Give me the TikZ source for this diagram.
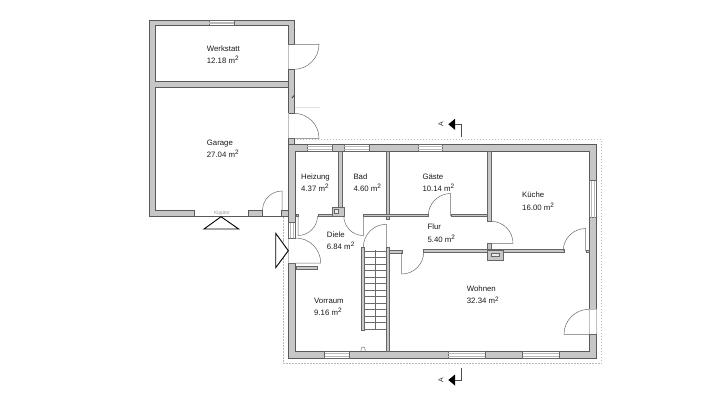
\documentclass[tikz,border=0pt]{standalone}
\usepackage{fontspec}
\setmainfont{Liberation Sans}

\begin{document}
\begin{tikzpicture}[x=1pt,y=-1pt,
    wall/.style={fill=black!22,draw=black!65,line width=.55pt,line join=miter},
    thinwall/.style={fill=black!22,draw=black!60,line width=.4pt,line join=miter},
    glass/.style={fill=white,draw=black!60,line width=.45pt},
    pane/.style={draw=black!28,line width=.45pt},
    sill/.style={draw=black!25,line width=.5pt},
    swing/.style={draw=black!58,line width=.5pt},
    tread/.style={draw=black!58,line width=.4pt},
    outline/.style={draw=black!28,line width=.5pt,dash pattern=on 1.5pt off 1.5pt},
    cut/.style={draw=black,line width=.9pt,fill=white,line join=miter},
    sect/.style={draw=black!70,line width=.5pt},
    room/.style={anchor=west,align=left,inner sep=0pt,text=black!90,
                 font=\fontsize{7.8}{12.3}\selectfont}]
  \useasboundingbox (0,0) rectangle (711,400);

  % dashed outline of the upper floor
  \draw[outline] (283.3,240) -- (283.3,363.3) -- (601.7,363.3) -- (601.7,139.3) -- (296,139.3);
  \draw[outline] (283.3,217) -- (283.3,240);
  \draw[black!12,line width=.5pt] (294,107) -- (320,107);

  % garage block
  \draw[wall] (149.5,20) -- (294,20) -- (294,44.3) -- (288,44.3) -- (288,25.7) -- (155.5,25.7)
    -- (155.5,81.7) -- (288,81.7) -- (288,87.3) -- (155.5,87.3) -- (155.5,210) -- (194,210)
    -- (194,216.7) -- (149.5,216.7) -- cycle;
  \draw[black!65,line width=.55pt] (194,216.7) -- (288,216.7);
  \foreach \xa/\ya/\xb/\yb in {288/69.3/294/113.3, 288/138.3/294/145,
                               248.7/210/262/216.7, 281.7/210/288/216.7}
    { \draw[wall] (\xa,\ya) rectangle (\xb,\yb); }
  \foreach \ya/\yb in {44.3/69.3, 113.3/138.3}
    { \draw[sill] (288,\ya) -- (288,\yb); }

  % house
  \draw[wall,even odd rule] (288,144) rectangle (596.3,358.3) (295.7,151.3) rectangle (589,351);

  % inner walls
  \foreach \xa/\ya/\xb/\yb in {338.3/151.3/341.7/213.7, 386/151.3/389.3/219,
                               295.7/213.7/298.3/216.3, 317.7/213.7/344/216.3,
                               363.3/213.7/428.3/216.3, 450.7/213.7/488/216.3,
                               487.3/151.3/491/221, 487.3/243.3/491/252,
                               423.3/249.3/564/252.3, 388/250/401.7/253,
                               386.3/247.3/389.3/351, 295.7/265.7/316.7/269,
                               585.7/250/589/252.3, 361.3/247.3/364.3/330}
    { \draw[thinwall] (\xa,\ya) rectangle (\xb,\yb); }

  % chimneys
  \foreach \xa/\ya/\xb/\yb/\xc/\yc/\xd/\yd in {331.7/206.7/344/216/334.5/209.7/338.5/213.7,
                                               487.3/250/502.7/260/491/253.3/499.3/256.7}
    { \draw[thinwall] (\xa,\ya) rectangle (\xb,\yb);
      \draw[glass,fill=black!8] (\xc,\yc) rectangle (\xd,\yd); }

  % stairs
  \foreach \ya in {250.7,257.2,...,330}
    { \draw[tread] (364.3,\ya) -- (386.3,\ya); }
  \draw[tread,line width=.55pt] (375,250) -- (375,330);
  \draw[swing] (361,351) -- (361,349) arc[start angle=180,end angle=360,radius=2] -- (365,351);

  % door openings in the house walls
  \fill[white] (287.4,238) rectangle (296.2,263.3);
  \fill[white] (588.5,309.3) rectangle (597,334.3);
  \draw[sill] (288,238) -- (288,263.3);
  \draw[sill] (589,309.3) -- (589,334.3) (596.3,309.3) -- (596.3,334.3) (589,309.3) -- (596.3,309.3);
  \draw[black!60,line width=.45pt] (288,263.3) -- (295.7,263.3) (589,334.3) -- (596.3,334.3);

  % windows
  \foreach \xa/\xb/\ya/\yb in {209.3/234.3/20/25.7, 307.3/332/144/151.3, 344/369/144/151.3,
                               418.3/442.7/144/151.3, 324.7/349.3/351/358.3,
                               448.3/485.3/351/358.3, 522.7/559.3/351/358.3}
    { \draw[glass] (\xa,\ya) rectangle (\xb,\yb);
      \draw[pane] (\xa,\ya+2.4) -- (\xb,\ya+2.4) (\xa,\yb-2.4) -- (\xb,\yb-2.4); }
  \foreach \xa/\xb/\ya/\yb in {589/596.3/180.7/217.7, 288/295.7/222.7/238}
    { \draw[glass] (\xa,\ya) rectangle (\xb,\yb);
      \draw[pane] (\xa+2.4,\ya) -- (\xa+2.4,\yb) (\xb-2.4,\ya) -- (\xb-2.4,\yb); }

  % doors: hinge, radius, leaf angle, end of the swing
  \foreach \cx/\cy/\r/\sa/\ea in {294/44.3/25/0/90, 294/138.3/25/0/-90, 282/210.5/19.5/270/180,
                                  298/216/19.5/90/0, 363.3/216/19.5/90/180, 450.7/216/22.5/270/180,
                                  491/243.3/22/0/-90, 401.7/252/22/90/0, 585.7/251/22.5/270/180,
                                  386.3/247.3/23/270/180, 295.7/263/25/0/-90, 589/334.3/25/180/270}
    { \draw[swing] (\cx,\cy) -- ++(\sa:\r) arc[start angle=\sa,end angle=\ea,radius=\r]; }
  \draw[swing] (288,44.3) -- (294,44.3) (288,138.3) -- (294,138.3) (288,263) -- (295.7,263);
  \draw[black!80,line width=.8pt] (292,98) -- (294,95.5);

  % rooms
  \foreach \id/\room/\xpos/\ypos/\area in {werkstatt/Werkstatt/206.7/54.5/12.18,
                                           garage/Garage/206.7/149/27.04,
                                           heizung/Heizung/301/182.7/4.37,
                                           bad/Bad/353.3/182.7/4.60,
                                           gaeste/Gäste/422.3/182.7/10.14,
                                           kueche/Küche/522/201.3/16.00,
                                           diele/Diele/326.7/240.7/6.84,
                                           flur/Flur/427.3/233.3/5.40,
                                           vorraum/Vorraum/314/306.5/9.16,
                                           wohnen/Wohnen/466.7/295/32.34}
    { \node[room] (\id) at (\xpos,\ypos)
        {\room\\\area{} m\raisebox{2.9pt}{\fontsize{6.4}{6.4}\selectfont 2}}; }
  \node[text=black!40,inner sep=0pt,font=\fontsize{5}{6}\selectfont] (kipptor) at (222,213) {Kipptor};

  % view marks
  \draw[cut] (221,216.7) -- (238.7,229) -- (204,229) -- cycle;
  \draw[cut] (275.7,233.3) -- (288.3,250.7) -- (275.7,267.7) -- cycle;

  % section line
  \foreach \ypos/\yend/\sname in {124.3/136.7/a-top, 380/368/a-bottom}
    { \fill[black] (448.3,\ypos) -- (455,\ypos-5.5) -- (455,\ypos+5.5) -- cycle;
      \draw[sect] (455,\ypos) -- (461,\ypos) -- (461,\yend);
      \node[rotate=90,inner sep=0pt,text=black!80,font=\fontsize{7}{8}\selectfont] (\sname) at (441,\ypos) {A}; }
\end{tikzpicture}
\end{document}
